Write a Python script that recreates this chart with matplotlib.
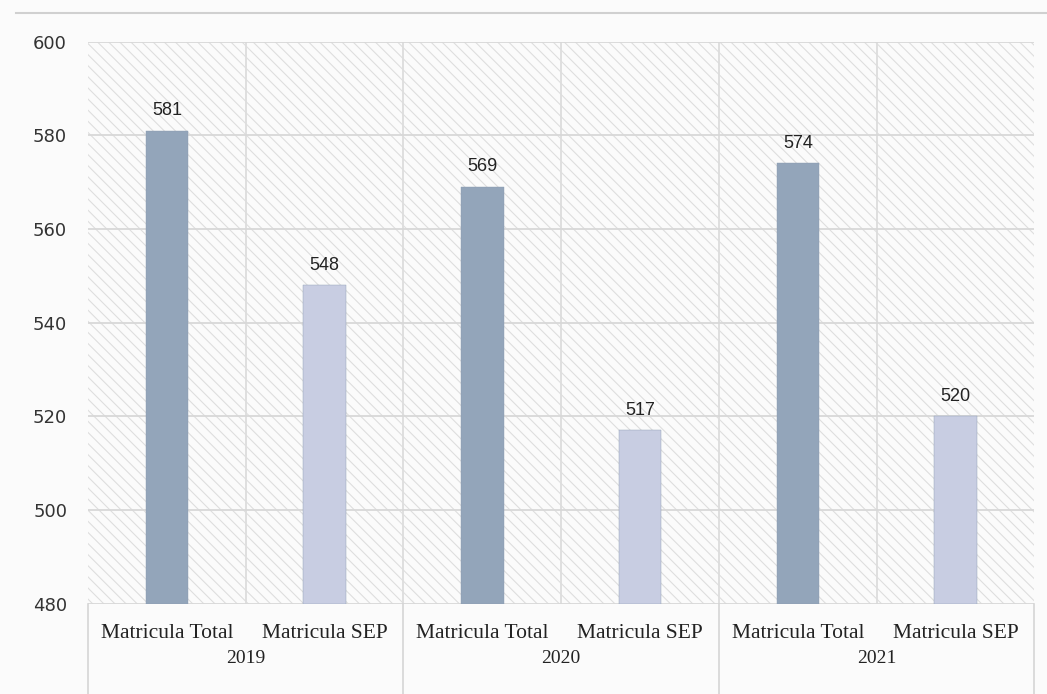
import matplotlib.pyplot as plt
from matplotlib.patches import Rectangle
from matplotlib.transforms import blended_transform_factory

years = ['2019', '2020', '2021']
categories = ['Matricula Total', 'Matricula SEP']
matricula_total = [581, 569, 574]
matricula_sep = [548, 517, 520]

colors = {'Matricula Total': '#93a5ba', 'Matricula SEP': '#c8cde2'}

if __name__ == '__main__':
    fig = plt.figure(figsize=(10.47, 6.94), dpi=100)
    fig.patch.set_facecolor('#fbfbfb')
    ax = fig.add_axes([0.084, 0.13, 0.904, 0.81])

    labels, values, bar_colors = [], [], []
    for i, year in enumerate(years):
        for cat, vals in zip(categories, [matricula_total, matricula_sep]):
            labels.append(cat)
            values.append(vals[i])
            bar_colors.append(colors[cat])
    xs = list(range(len(values)))

    # hatched plot area like the scanned original
    ax.set_facecolor('#fbfbfb')
    plt.rcParams['hatch.linewidth'] = 0.8
    bg = Rectangle((0, 0), 1, 1, transform=ax.transAxes, facecolor='#fbfbfb',
                   edgecolor='#dedede', hatch='\\\\\\', linewidth=0, zorder=0)
    ax.add_patch(bg)

    ax.set_xlim(-0.5, len(values) - 0.5)
    ax.set_ylim(480, 600)
    ax.set_yticks(range(480, 601, 20))
    ax.yaxis.grid(True, color='#d8d8d8', linewidth=1.3, zorder=1)
    for b in [x + 0.5 for x in xs[:-1]]:
        ax.axvline(b, color='#dddddd', linewidth=1.3, zorder=1)

    ax.bar(xs, [v - 480 for v in values], bottom=480, width=0.27,
           color=bar_colors, edgecolor='#8a9bb0', linewidth=0.3, zorder=2)
    for x, v in zip(xs, values):
        ax.text(x, v + 2.5, str(v), ha='center', va='bottom', fontsize=13,
                family='Liberation Sans', color='#222222')

    for s in ax.spines.values():
        s.set_visible(False)
    ax.tick_params(axis='y', length=0, labelsize=13, labelcolor='#333333', pad=15)
    ax.tick_params(axis='x', length=0, labelbottom=False)

    # two level category axis
    tr = blended_transform_factory(ax.transData, ax.transAxes)
    for x, lab in zip(xs, labels):
        ax.text(x, -0.052, lab, transform=tr, ha='center', va='center',
                family='Liberation Serif', fontsize=15.5, color='#222222')
    for i, year in enumerate(years):
        ax.text(2 * i + 0.5, -0.097, year, transform=tr, ha='center', va='center',
                family='Liberation Serif', fontsize=14, color='#222222')
    for b in [-0.5, 1.5, 3.5, 5.5]:
        ax.plot([b, b], [0, -0.16], transform=tr, color='#d5d5d5',
                linewidth=1.2, clip_on=False)

    # scan frame line at the top
    fig.add_artist(plt.Line2D([0.015, 1.0], [0.981, 0.981], color='#d0d0d0', linewidth=1.5))

    fig.savefig('out.png', dpi=100)
